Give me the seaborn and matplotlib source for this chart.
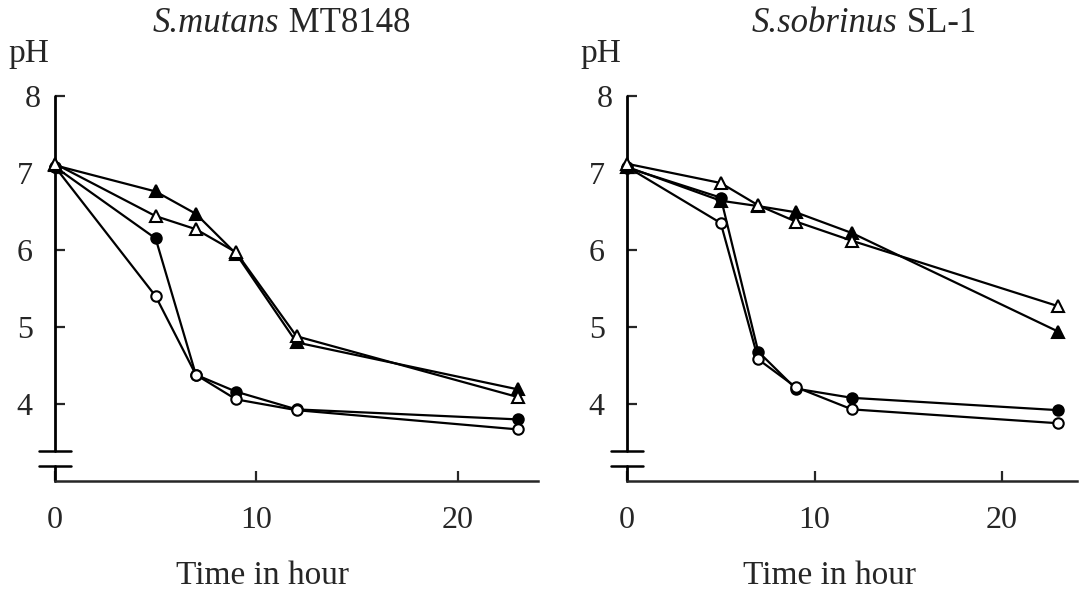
import matplotlib
matplotlib.use('Agg')
import matplotlib.pyplot as plt
import matplotlib.transforms as mtransforms
import seaborn as sns

sns.set_style('ticks')
plt.rcParams['font.family'] = ['Liberation Serif', 'DejaVu Serif']

# sampling times (hours)
hours = [0, 5, 7, 9, 12, 23]

# S. mutans MT8148
mutans_filled_circle = [7.08, 6.15, 4.38, 4.16, 3.93, 3.80]
mutans_open_circle = [7.08, 5.40, 4.38, 4.06, 3.92, 3.67]
mutans_filled_tri = [7.10, 6.76, 6.47, 5.95, 4.80, 4.19]
mutans_open_tri = [7.12, 6.44, 6.27, 5.97, 4.88, 4.09]

# S. sobrinus SL-1
sobrinus_filled_circle = [7.07, 6.68, 4.68, 4.20, 4.08, 3.92]
sobrinus_open_circle = [7.08, 6.35, 4.58, 4.22, 3.93, 3.75]
sobrinus_filled_tri = [7.08, 6.64, 6.57, 6.49, 6.22, 4.94]
sobrinus_open_tri = [7.12, 6.87, 6.58, 6.37, 6.12, 5.27]

panels = [
    ('S.mutans', 'MT8148', [mutans_filled_circle, mutans_open_circle,
                            mutans_filled_tri, mutans_open_tri]),
    ('S.sobrinus', 'SL-1', [sobrinus_filled_circle, sobrinus_open_circle,
                            sobrinus_filled_tri, sobrinus_open_tri]),
]
styles = [('o', 'black'), ('o', 'white'), ('^', 'black'), ('^', 'white')]

W, H = 1080, 594
fig = plt.figure(figsize=(W / 100, H / 100), dpi=100)
# axes boxes in pixels: left, right
boxes = [(55, 538), (627, 1077)]
title_x = [153, 752]
top_px, bot_px = 96, 481

for (species, strain, series), (x0, x1), tx in zip(panels, boxes, title_x):
    ax = fig.add_axes([x0 / W, (H - bot_px) / H, (x1 - x0) / W, (bot_px - top_px) / H])
    for vals, (mk, fc) in zip(series, styles):
        sns.lineplot(x=hours, y=vals, ax=ax, color='black', lw=1.6,
                     marker=mk, markersize=8.5 if mk == '^' else 7.5,
                     markerfacecolor=fc, markeredgecolor='black',
                     markeredgewidth=1.5, clip_on=False, zorder=3)
    ax.set_xlim(0, 24)
    ax.set_ylim(3, 8)
    ax.set_xticks([0, 10, 20])
    ax.set_yticks([4, 5, 6, 7, 8])
    ax.tick_params(direction='in', length=7, width=1.6, labelsize=23)
    ax.tick_params(axis='x', pad=18)
    ax.tick_params(axis='y', pad=16)
    for s in ['top', 'right']:
        ax.spines[s].set_visible(False)
    ax.spines['bottom'].set_linewidth(1.8)
    ax.spines['left'].set_visible(False)

    # "8" sits a little further right in the original
    lab8 = ax.get_yticklabels()[-1]
    lab8.set_transform(lab8.get_transform() +
                       mtransforms.ScaledTranslation(8 / 100, 0, fig.dpi_scale_trans))

    # broken y axis
    wpx = x1 - x0
    hpx = bot_px - top_px
    b_hi = (bot_px - 451) / hpx
    b_lo = (bot_px - 466) / hpx
    ax.plot([0, 0], [b_hi, 1], transform=ax.transAxes, color='black', lw=2, clip_on=False)
    ax.plot([0, 0], [0, b_lo], transform=ax.transAxes, color='black', lw=2, clip_on=False)
    d = 16 / wpx
    for yb in (b_hi, b_lo):
        ax.plot([-d, d], [yb, yb], transform=ax.transAxes, color='black', lw=1.8, clip_on=False)

    # pH label and title
    fig.text((x0 - 47) / W, 1 - 62 / H, 'pH', fontsize=24, va='baseline', ha='left')
    t = fig.text(tx / W, 1 - 32 / H, species, fontsize=25, style='italic',
                 va='baseline', ha='left')
    fig.canvas.draw()
    bb = t.get_window_extent()
    fig.text(bb.x1 / W, 1 - 32 / H, ' ' + strain, fontsize=25, va='baseline', ha='left')

    ax.set_xlabel('Time in hour', fontsize=24)
    ax.xaxis.label.set_va('baseline')
    ax.xaxis.set_label_coords(0.43 if x0 < 500 else 0.45, -(584 - bot_px) / hpx)
    ax.set_ylabel('')

fig.savefig('out.png', dpi=100)
